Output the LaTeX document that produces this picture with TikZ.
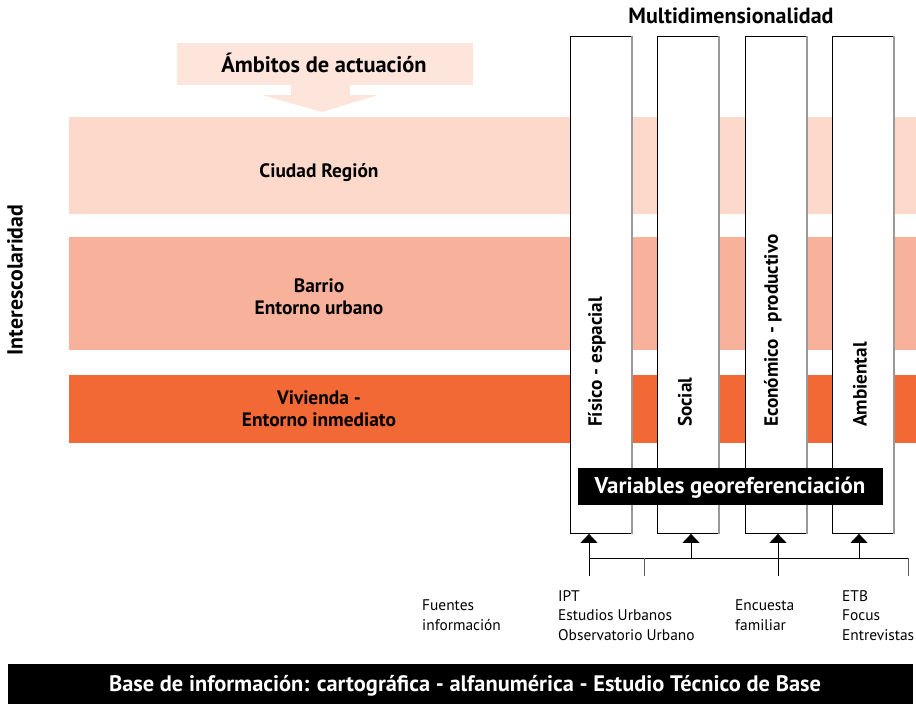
\documentclass[tikz,border=0pt]{standalone}
\usepackage{fontspec}
\setmainfont{PT Sans}
\usetikzlibrary{arrows.meta}
\definecolor{bandA}{HTML}{FCD9CB}
\definecolor{bandB}{HTML}{F8B19A}
\definecolor{bandC}{HTML}{F26936}
\definecolor{topbox}{HTML}{FDE5DC}
\tikzset{
  band/.style={draw=none, anchor=north west, inner sep=0pt, minimum width=847pt},
  bandtxt/.style={font=\bfseries\fontsize{19.4}{22}\selectfont, align=center},
  colbox/.style={draw=black, line width=0.9pt, fill=white, anchor=north west, inner sep=0pt, minimum width=61pt, minimum height=497pt},
  coltxt/.style={font=\bfseries\fontsize{19.2}{22}\selectfont, rotate=90, anchor=west, inner sep=0pt},
  srctxt/.style={font=\fontsize{15.4}{19.5}\selectfont, align=left, anchor=north west, inner sep=0pt},
  feed/.style={line width=0.9pt, draw=black},
  arr/.style={line width=0.9pt, -{Triangle[width=17pt,length=9pt]}},
}
\begin{document}
\begin{tikzpicture}[x=1pt,y=-1pt]
\useasboundingbox (0,0) rectangle (916,705);
% top arrow
\node[fill=topbox, anchor=north west, minimum width=296pt, minimum height=42pt, inner sep=0pt] (amb) at (177,43) {};
\node[font=\bfseries\fontsize{22.4}{24}\selectfont] (ambt) at (324,63) {Ámbitos de actuación};
\fill[topbox] (291,84) -- (350,84) -- (350,95) -- (378,95) -- (322,112) -- (262,95) -- (291,95) -- cycle;
% bands
\node[band, fill=bandA, minimum height=97pt] (b1) at (69,117) {};
\node[band, fill=bandB, minimum height=113pt] (b2) at (69,237) {};
\node[band, fill=bandC, minimum height=68pt] (b3) at (69,375) {};
\node[bandtxt] (t1) at (319,173) {Ciudad Región};
\node[bandtxt] (t2) at (319,297) {Barrio\\Entorno urbano};
\node[bandtxt] (t3) at (319,409) {Vivienda -\\Entorno inmediato};
% side label
\node[font=\bfseries\fontsize{21.8}{24}\selectfont, rotate=90] (inter) at (15,280) {Interescolaridad};
% columns
\node[font=\bfseries\fontsize{22}{24}\selectfont] (multi) at (731,16) {Multidimensionalidad};
\node[colbox] (c1) at (570,36) {};
\node[colbox] (c2) at (657,36) {};
\node[colbox] (c3) at (745,36) {};
\node[colbox] (c4) at (832,36) {};
\draw[gray!80, line width=1.2pt] (c1.north east) -- (c1.south east);
\draw[gray!80, line width=1.2pt] (c2.north east) -- (c2.south east);
\draw[gray!80, line width=1.2pt] (c3.north east) -- (c3.south east);
\draw[gray!80, line width=1.2pt] (c4.north east) -- (c4.south east);
\node[coltxt] (l1) at (597,427) {Físico - espacial};
\node[coltxt] (l2) at (685,427) {Social};
\node[coltxt] (l3) at (773,427) {Económico - productivo};
\node[coltxt] (l4) at (860,427) {Ambiental};
% variables box
\node[fill=black, anchor=north west, minimum width=305pt, minimum height=37pt, inner sep=0pt] (var) at (578,468) {};
\node[text=white, font=\bfseries\fontsize{22.9}{24}\selectfont] (vart) at (730,488) {Variables georeferenciación};
% feeds
\coordinate (f1) at (589,576);
\coordinate (f2) at (691,558);
\coordinate (f3) at (778,576);
\coordinate (f4) at (859,558);
\coordinate (h1) at (589,558);
\coordinate (h2) at (908,558);
\coordinate (d1) at (644,558);
\coordinate (d1e) at (644,576);
\coordinate (d2e) at (908,576);
\draw[feed] (h1) -- (h2);
\draw[feed, gray!70!black] (d1) -- (d1e);
\draw[feed, gray!70!black] (h2) -- (d2e);
\draw[arr] (f1) -- (f1 |- c1.south);
\draw[arr] (f2) -- (f2 |- c2.south);
\draw[arr] (f3) -- (f3 |- c3.south);
\draw[arr] (f4) -- (f4 |- c4.south);
% sources
\node[srctxt] (s0) at (422,600) {Fuentes\\información};
\node[srctxt] (s1) at (558,590) {IPT\\Estudios Urbanos\\Observatorio Urbano};
\node[srctxt] (s2) at (735,600) {Encuesta\\familiar};
\node[srctxt] (s3) at (842,590) {ETB\\Focus\\Entrevistas};
% bottom bar
\node[fill=black, anchor=north west, minimum width=905pt, minimum height=40pt, inner sep=0pt] (base) at (8,664) {};
\node[text=white, font=\bfseries\fontsize{22.4}{24}\selectfont] (baset) at (465,686) {Base de información: cartográfica - alfanumérica - Estudio Técnico de Base};
\end{tikzpicture}
\end{document}
